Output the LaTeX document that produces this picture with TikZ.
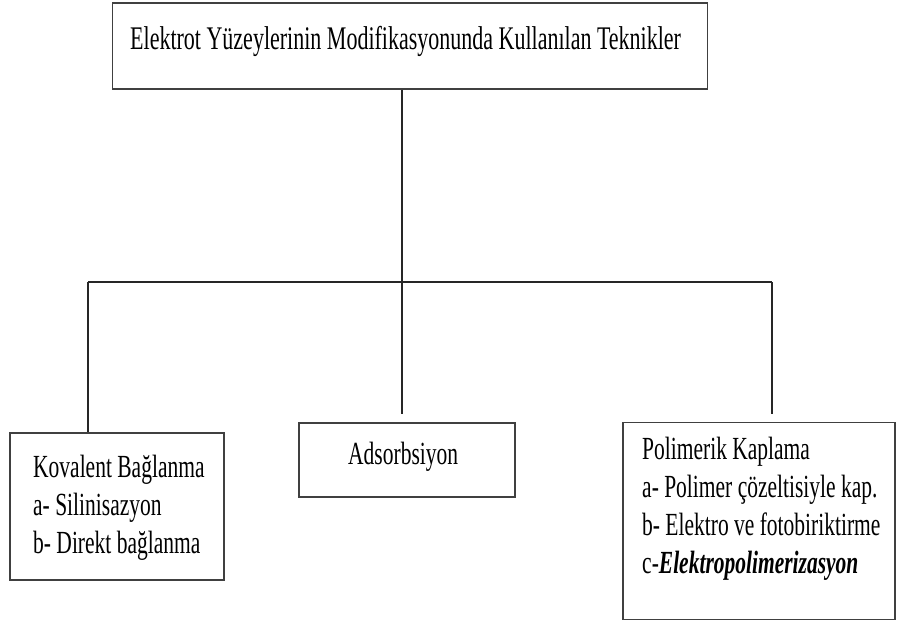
\documentclass[tikz,border=0pt]{standalone}
\usepackage{fontspec}
\setmainfont{Liberation Serif}
\usepackage{graphicx}
\tikzset{
  box/.style={draw=black!75, line width=1.6pt, rectangle, inner sep=0pt, fill=white},
  conn/.style={draw=black!85, line width=1.4pt},
  txt/.style={anchor=base west, inner sep=0pt, font=\fontsize{21.5}{25.5}\selectfont}
}
\newcommand{\vst}[1]{\scalebox{1}[1.5]{#1}}
\begin{document}
\begin{tikzpicture}[x=1pt,y=-1pt]
\useasboundingbox (0,0) rectangle (897,623);
% boxes
\node[box, minimum width=595pt, minimum height=86pt] (top) at (410,46) {};
\node[box, minimum width=214pt, minimum height=147pt] (kov) at (117,506.5) {};
\node[box, minimum width=216pt, minimum height=74pt] (ads) at (407,460) {};
\node[box, minimum width=272pt, minimum height=197pt] (pol) at (759,521) {};
% texts
\node[txt, font=\fontsize{22}{26}\selectfont] (toptxt) at (130,50) {\vst{Elektrot Yüzeylerinin Modifikasyonunda Kullanılan Teknikler}};
\node[txt] (kovtxt) at (33,477) {\vst{\begin{tabular}[t]{@{}l@{}}Kovalent Bağlanma\\ a- Silinisazyon\\ b- Direkt bağlanma\end{tabular}}};
\node[txt] (adstxt) at (348,464) {\vst{Adsorbsiyon}};
\node[txt] (poltxt) at (642,459) {\vst{\begin{tabular}[t]{@{}l@{}}Polimerik Kaplama\\ a- Polimer çözeltisiyle kap.\\ b- Elektro ve fotobiriktirme\\ c-\textbf{\textit{Elektropolimerizasyon}}\end{tabular}}};
% connectors
\coordinate (j) at (402,282);
\coordinate (jl) at (88,282);
\coordinate (jr) at (772,282);
\coordinate (em) at (402,414);
\coordinate (er) at (772,414);
\draw[conn] (top.south -| j) -- (j);
\draw[conn] (jl) -- (jr);
\draw[conn] (jl) -- (jl |- kov.north);
\draw[conn] (j) -- (em);
\draw[conn] (jr) -- (er);
\end{tikzpicture}
\end{document}
